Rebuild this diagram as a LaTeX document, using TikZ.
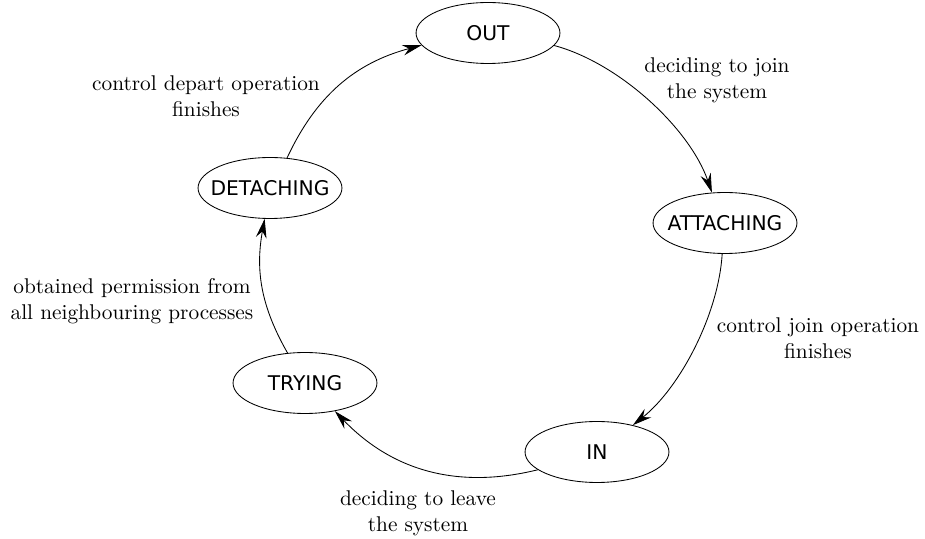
\documentclass[tikz,border=0pt]{standalone}
\usepackage{fontspec}
\newfontfamily\statefont{DejaVu Sans}
\usetikzlibrary{arrows.meta,shapes.geometric}
\tikzset{%
  >={Stealth[length=9pt,width=5pt,inset=3pt]}, % option for nice arrows
  state/.style={ellipse,draw,inner xsep=-6pt,inner ysep=0pt,
    minimum width=67.5pt,minimum height=28.6pt,
    font=\statefont\fontsize{9.5}{11}\selectfont},%
  trans/.style={align=center,inner sep=0pt}%
}

\begin{document}
\begin{tikzpicture}[x=0.469pt,y=-0.469pt] % states of a process
\useasboundingbox (0,0) rectangle (925,539);

\node[state] (out) at (488,33) {OUT};
\node[state] (attaching) at (725,223) {ATTACHING};
\node[state] (in) at (597,452) {IN};
\node[state] (trying) at (305,383) {TRYING};
\node[state] (detaching) at (270,188) {DETACHING};

\draw[->] (detaching) to[bend left=25] (out);
\draw[->] (out) to[bend left=28,looseness=0.8] (attaching);
\draw[->] (attaching) to[bend left=24,looseness=0.8] (in);
\draw[->] (in) to[bend left=30] (trying);
\draw[->] (trying) to[bend left=20] (detaching);

\node[trans] (ldepart) at (206,96) {control depart operation\\finishes};
\node[trans] (ljoin) at (717,80) {deciding to join\\the system};
\node[trans] (lfinish) at (818,338) {control join operation\\finishes};
\node[trans] (lleave) at (418,513) {deciding to leave\\the system};
\node[trans] (lperm) at (132,301) {obtained permission from\\all neighbouring processes};

\end{tikzpicture}
\end{document}
